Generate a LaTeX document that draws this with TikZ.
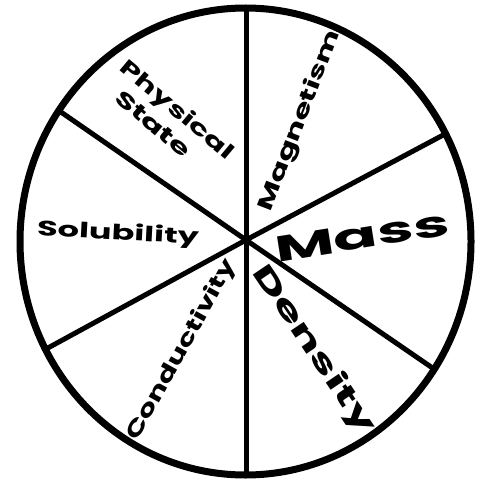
\documentclass[tikz,border=0pt]{standalone}
\usepackage{fontspec}
\newfontfamily\labfont{Poppins}
\tikzset{
  rim/.style={line width=7pt},
  spoke/.style={line width=5pt},
  lbl/.style={font=\labfont\bfseries, inner sep=0pt, anchor=center}
}
\begin{document}
\begin{tikzpicture}[x=1pt,y=-1pt]
\useasboundingbox (0,0) rectangle (486,481);
\coordinate (O) at (246,240);
\coordinate (top) at (246,6);
\coordinate (bot) at (246,476);
\coordinate (ul) at (58,110);
\coordinate (ll) at (46,349);
\coordinate (ur) at (447,133);
\coordinate (lr) at (434,369);
\draw[spoke] (top) -- (bot);
\draw[spoke] (ul) -- (O) -- (lr);
\draw[spoke] (ll) -- (O) -- (ur);
\draw[rim] (245.5,241.5) ellipse [x radius=225.5, y radius=233.5];
\node[lbl, rotate=-40, font=\labfont\bfseries\fontsize{21}{21}\selectfont] (phys) at (176,111) {\scalebox{1.55}[1]{Physical}};
\node[lbl, rotate=-40, font=\labfont\bfseries\fontsize{21}{21}\selectfont] (state) at (153,124) {\scalebox{1.6}[1]{State}};
\node[lbl, rotate=69, font=\labfont\bfseries\fontsize{21}{21}\selectfont] (mag) at (300,121) {\scalebox{1.55}[1]{Magnetism}};
\node[lbl, rotate=-3, font=\labfont\bfseries\fontsize{21}{21}\selectfont] (sol) at (118,234) {\scalebox{1.6}[1]{Solubility}};
\node[lbl, rotate=9, font=\labfont\bfseries\fontsize{36}{36}\selectfont] (mass) at (362,236) {\scalebox{1.8}[1]{Mass}};
\node[lbl, rotate=61, font=\labfont\bfseries\fontsize{21}{21}\selectfont] (cond) at (182,350) {\scalebox{1.45}[1]{Conductivity}};
\node[lbl, rotate=-56, font=\labfont\bfseries\fontsize{28}{28}\selectfont] (dens) at (313,350) {\scalebox{1.8}[1]{Density}};
\end{tikzpicture}
\end{document}
